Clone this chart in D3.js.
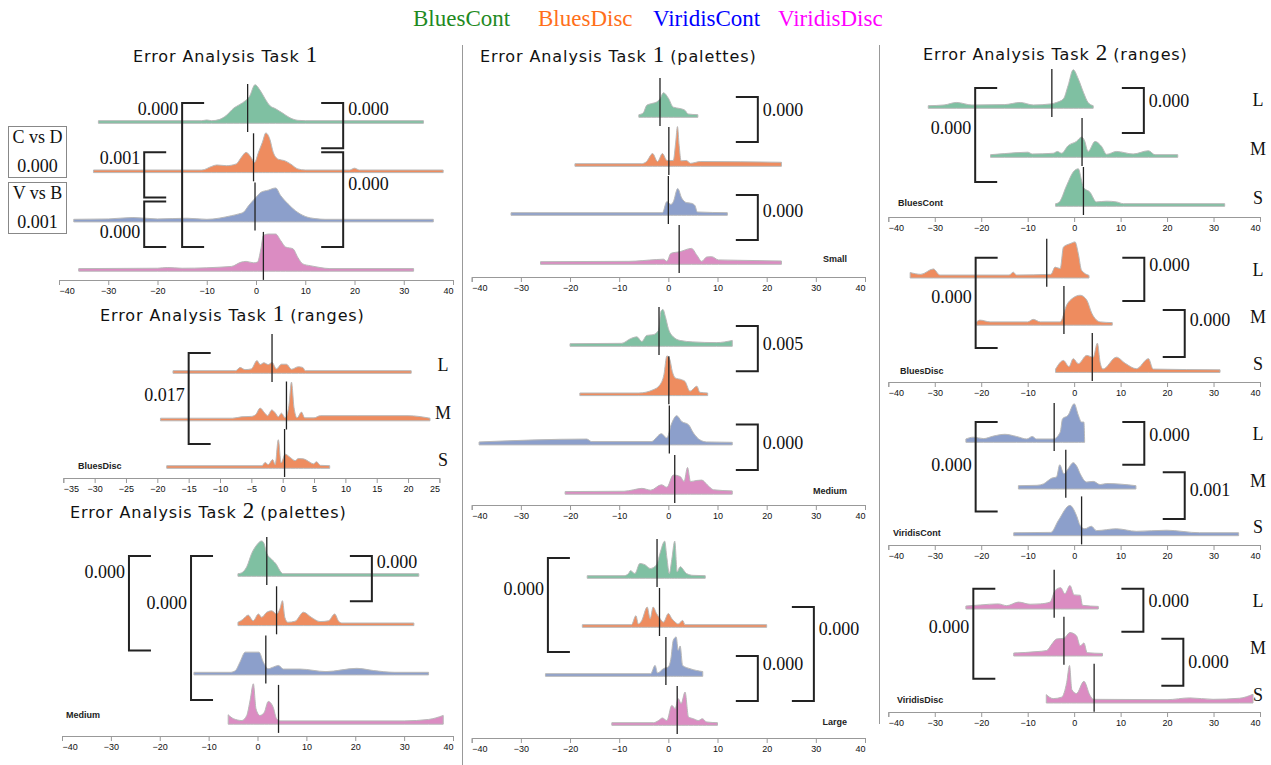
<!DOCTYPE html>
<html>
<head>
<meta charset="utf-8">
<script src="https://cdn.jsdelivr.net/npm/d3@7"></script>
<style>
body { margin: 0; background: #fff; }
.title { font-family: "DejaVu Sans", sans-serif; font-size: 16px; letter-spacing: 0.9px; fill: #111; white-space: pre; }
.title .num { font-family: "Liberation Serif", serif; font-size: 23px; letter-spacing: 0; }
.pval, .row, .box { font-family: "Liberation Serif", serif; font-size: 18px; fill: #111; }
.tag { font-family: "Liberation Sans", Arial, sans-serif; font-size: 9px; font-weight: bold; fill: #222; }
.legend { font-family: "Liberation Serif", serif; font-size: 23px; }
.axis text { font-family: "Liberation Sans", Arial, sans-serif; font-size: 9px; fill: #111; }
.axis path, .axis line { stroke: #999; }
</style>
</head>
<body>
<svg id="chart" width="1271" height="765"></svg>
<script>
document.addEventListener("DOMContentLoaded", function() {

// ---- categories & ticks ----
var palettes = ["BluesCont", "BluesDisc", "ViridisCont", "ViridisDisc"];
var ranges = ["L", "M", "S"];
var sizes = ["Small", "Medium", "Large"];
var ticksWide = [-40, -30, -20, -10, 0, 10, 20, 30, 40];
var ticksNarrow = [-35, -30, -25, -20, -15, -10, -5, 0, 5, 10, 15, 20, 25];

// ---- density profiles: [error, density] ----
// Task 1, all sizes
var t1Cont = [[-32,0],[-11,0],[-10,0.02],[-9,0],[-7.5,0.03],[-6,0.15],[-4.5,0.35],[-3.3,0.45],[-2.2,0.55],[-1.3,0.68],[-0.2,1],[0.8,0.85],[1.8,0.62],[2.8,0.42],[4,0.33],[5.3,0.22],[6.9,0.08],[8.5,0.01],[10,0],[34,0]];
var t1Disc = [[-33,0],[-11,0],[-9,0.1],[-8,0.14],[-6,0.12],[-4,0.17],[-3,0.35],[-2,0.49],[-1,0.35],[-0.3,0.21],[0.5,0.49],[1.3,0.77],[2,1.03],[2.8,0.86],[3.5,0.49],[4.5,0.3],[5.8,0.26],[7,0.17],[8.5,0.03],[10,0],[19,0],[20,0.05],[21,0],[38,0]];
var t1VCont = [[-37,0],[-30,0.01],[-25,0.05],[-20,0.01],[-14,0.03],[-10,0],[-5,0.1],[-3.5,0.15],[-2.5,0.2],[-1.5,0.38],[0,0.61],[1,0.75],[2.5,0.81],[4,0.87],[5,0.66],[6.5,0.43],[8,0.24],[10,0.08],[12,0.02],[14,0],[36,0]];
var t1VDisc = [[-36,0],[-20,0.01],[-18,0.03],[-15,0.01],[-5,0.06],[-3,0.18],[-2,0.2],[-0.5,0.16],[0.3,0.18],[1,0.55],[1.5,0.92],[2.5,0.96],[4,0.96],[5,0.78],[6,0.6],[7.5,0.55],[8.5,0.31],[9.5,0.13],[11,0.08],[13,0.03],[15,0],[32,0]];
var t1Med = [-1.7, -0.5, -0.2, 1.5];
var t1P = ["0.000", "0.001", "0.000", "0.000", "0.000"];
var t1Cmp = [["C vs D", "0.000"], ["V vs B", "0.001"]];

// Task 1 ranges, BluesDisc
var r1L = [[-17.5,0],[-7.5,0],[-6.8,0.09],[-6,0.03],[-5,0.05],[-4.1,0.28],[-3.6,0.17],[-3,0.22],[-2.3,0.17],[-1.7,0.23],[-1,0.05],[-0.2,0.18],[0.6,0.18],[1.4,0.04],[2.5,0.11],[3.2,0.09],[3.6,0],[20.5,0]];
var r1M = [[-19.5,0],[-8,0],[-6.5,0.04],[-5,0.05],[-4.3,0.1],[-3.6,0.28],[-2.9,0.15],[-2.4,0.07],[-1.75,0.23],[-1.2,0.15],[-0.7,0.04],[-0.2,0.14],[0.4,0.01],[1.0,0.35],[1.4,1.0],[1.8,0.3],[2.3,0.01],[3.0,0.17],[3.5,0.01],[5,0.01],[6,0.07],[12,0.07],[20,0.07],[23.5,0]];
var r1S = [[-18.5,0],[-3.3,0],[-2.8,0.09],[-2.3,0.03],[-1.6,0.17],[-1.2,0.03],[-0.7,0.72],[-0.25,0.08],[0.4,0.32],[1.2,0.23],[2,0.14],[2.5,0.2],[3.3,0.19],[4.4,0.09],[4.9,0.05],[5.4,0.11],[6,0.01],[7.5,0]];
var r1Med = [-1.7, 0.6, 0.3];
var r1P = ["0.017"];

// Task 2 palettes, Medium
var p2Cont = [[-4,0],[-3.3,0.02],[-2.2,0.19],[-1.2,0.56],[-0.2,0.79],[0.85,0.91],[1.3,0.85],[1.9,0.56],[2.9,0.4],[3.9,0.25],[4.6,0.08],[5.2,0],[33,0]];
var p2Disc = [[-4,0.02],[-3,0.1],[-1.9,0.22],[-0.9,0.06],[0.2,0.25],[0.85,0.16],[1.9,0.3],[2.9,0.34],[3.9,0.25],[4.6,0.4],[5.1,0.62],[5.6,0.15],[6.2,0.02],[7.7,0.05],[9.4,0.3],[11,0.16],[12.8,0.04],[14.5,0.06],[15.8,0.25],[16.6,0.05],[17.3,0],[32,0]];
var p2VCont = [[-13,0],[-5.5,0],[-4.5,0.05],[-3.6,0.28],[-2.5,0.56],[0.3,0.56],[1.2,0.28],[2.2,0.1],[3.3,0.15],[4.3,0.19],[5.3,0.09],[8.7,0.09],[14,0.02],[20.3,0.11],[23.7,0.05],[28,0],[35,0]];
var p2VDisc = [[-6,0.19],[-4.9,0.08],[-3.2,0.03],[-2.2,0.17],[-1.5,0.6],[-0.85,1.05],[-0.3,0.35],[0.5,0.17],[1.4,0.26],[2.2,0.56],[3.2,0.4],[3.9,0.08],[4.6,0.02],[30,0.02],[35,0.06],[38,0.17]];
var p2Med = [1.9, 3.9, 1.7, 4.3];
var p2P = ["0.000", "0.000", "0.000"];

// Task 1 palettes, Small
var sCont = [[-6,0],[-5.1,0.05],[-4.4,0.26],[-3.4,0.31],[-2.4,0.35],[-1.7,0.44],[-1,0.61],[0,0.46],[1,0.21],[2.4,0.17],[3.4,0.12],[4,0.02],[6,0]];
var sDisc = [[-19,0],[-5.5,0],[-4.5,0.05],[-3.2,0.28],[-2.2,0.06],[-1.2,0.28],[-0.3,0.09],[1,0.09],[1.5,0.6],[1.85,1.03],[2.2,0.5],[2.6,0.08],[3.7,0.09],[4.5,0.01],[6.5,0.06],[23,0.04]];
var sVCont = [[-32,0],[-1.2,0],[-0.3,0.31],[0.5,0.23],[1,0.3],[1.9,0.67],[2.7,0.41],[3.7,0.28],[4.7,0.26],[5.4,0.2],[5.9,0.02],[12,0]];
var sVDisc = [[-26,0],[-8,0.01],[-2.4,0.06],[-1,0.07],[-0.3,0.01],[0.5,0.23],[2.4,0.28],[4.7,0.37],[5.8,0.18],[6.8,0.01],[7.8,0.13],[8.8,0.14],[10.2,0.05],[14,0.04],[23,0.02]];
var sMed = [-1.7, 0.1, 0, 2.2];
var sP = ["0.000", "0.000"];

// Task 1 palettes, Medium
var mCont = [[-20,0],[-9.5,0.01],[-7.7,0.14],[-6.4,0.19],[-5.4,0.06],[-4.4,0.23],[-3.1,0.25],[-2,0.37],[-1.5,0.9],[-1.1,0.95],[-0.6,0.75],[0,0.42],[1,0.19],[2.4,0.09],[5,0.05],[9.8,0.03],[13,0.09]];
var mDisc = [[-18,0],[-6,0],[-3.1,0.09],[-1.7,0.23],[-0.9,0.51],[-0.3,1.03],[0.3,0.93],[0.8,0.6],[1.4,0.42],[2.7,0.37],[3.4,0.32],[4.4,0.05],[5.8,0.19],[6.4,0.02],[8,0]];
var mVCont = [[-38.5,0.01],[-16.6,0.09],[-15.6,0.02],[-3.5,0.02],[-1.4,0.24],[-0.3,0.12],[0.6,0.5],[1.7,0.74],[2.7,0.58],[4.1,0.49],[5.1,0.26],[6.4,0.07],[7.8,0.01],[13,0]];
var mVDisc = [[-21,0],[-9,0.01],[-7.1,0.05],[-5.4,0.09],[-3.6,0.04],[-1.4,0.19],[-0.3,0.12],[1,0.46],[2.4,0.42],[3.2,0.28],[3.9,0.67],[4.5,0.28],[5.8,0.31],[6.8,0.32],[7.9,0.19],[9.2,0.05],[13,0.02]];
var mMed = [-1.9, 0.1, 0.2, 1.3];
var mP = ["0.005", "0.000"];

// Task 1 palettes, Large
var lCont = [[-16.5,0],[-9,0],[-8.1,0.06],[-7.7,0.14],[-6.8,0.06],[-5.8,0.34],[-4.7,0.3],[-3.7,0.2],[-2.4,0.3],[-1.7,0.62],[-0.75,0.96],[-0.3,0.5],[0.2,0.06],[0.7,0.45],[1.3,0.96],[1.8,0.11],[2.4,0.25],[3.7,0.06],[5,0.01],[7.5,0]];
var lDisc = [[-17.5,0],[-7.5,0],[-6.6,0.25],[-6.1,0.02],[-5.4,0.12],[-4.3,0.49],[-3.7,0.17],[-3.1,0.49],[-2.4,0.31],[-1.7,0.17],[-1,0.07],[0,0.31],[0.7,0.17],[1.4,0.07],[2,0.02],[2.9,0.12],[3.4,0],[20,0]];
var lVCont = [[-25,0],[-3.6,0],[-2.7,0.23],[-2.2,0.02],[-1,0.14],[0,0.19],[0.5,0.4],[1,0.93],[1.6,1.02],[2,0.65],[2.4,0.77],[2.9,0.23],[4.4,0.14],[7,0.06]];
var lVDisc = [[-11.5,0],[-3,0],[-2,0.06],[-1.2,0.13],[-0.3,0.06],[0.7,0.48],[1.4,0.39],[2,0.67],[2.6,0.53],[3.4,0.85],[4.1,0.16],[5.1,0.11],[6.1,0.06],[6.9,0.11],[7.8,0.02],[10,0]];
var lMed = [-2.3, -1.8, -0.5, 1.8];
var lP = ["0.000", "0.000", "0.000"];

// Task 2 ranges
var r2cL = [[-31.4,0],[-28,0.02],[-25.3,0.09],[-22,0.02],[-15,0.03],[-11.6,0.09],[-8.8,0.02],[-5,0.05],[-3.8,0.09],[-2.3,0.19],[-1.3,0.56],[-0.2,1],[0.9,0.74],[2,0.37],[3,0.09],[4.1,0]];
var r2cM = [[-18,0],[-15,0.03],[-10,0.07],[-9,0.02],[-4.5,0.04],[-3.6,0.09],[-2.7,0.04],[-1.3,0.25],[0.5,0.37],[1.6,0.49],[2.2,0.4],[3,0.09],[4.5,0.37],[5.9,0.23],[7,0.01],[9.1,0.09],[12.7,0.02],[16,0.11],[17.4,0],[22.3,0]];
var r2cS = [[-4,0],[-3.3,0.03],[-1.6,0.51],[-0.2,0.88],[0.9,0.97],[1.5,0.7],[2,0.45],[3.4,0.32],[4.8,0.05],[7,0.07],[9.1,0.05],[10.6,0],[32.4,0]];
var r2cMed = [-4.8, 1.7, 2];
var r2cP = ["0.000", "0.000"];

var r2dL = [[-35.3,0.08],[-33,0.03],[-30.3,0.18],[-28.9,0.01],[-14,0.01],[-13.1,0.09],[-12.4,0.01],[-5,0.03],[-4.1,0.23],[-3,0.19],[-2.3,0.79],[-0.9,0.88],[0.2,0.93],[0.9,0.6],[1.6,0.14],[3.2,0]];
var r2dM = [[-21,0.02],[-20.3,0.07],[-18.1,0.02],[-10,0.02],[-8.8,0.09],[-7.3,0.02],[-3,0.02],[-1.6,0.49],[-0.2,0.69],[1.3,0.76],[2.7,0.63],[3.8,0.26],[5.6,0.02],[8.2,0]];
var r2dS = [[-4,0.02],[-2.3,0.26],[-1.1,0.09],[-0.2,0.31],[0.9,0.17],[2.7,0.4],[4.1,0.35],[5,0.74],[5.6,0.2],[6.2,0.02],[9.1,0.35],[11,0.18],[13.4,0.03],[16,0.31],[17,0.02],[31.4,0]];
var r2dMed = [-5.9, -2.2, 3.9];
var r2dP = ["0.000", "0.000", "0.000"];

var r2vcL = [[-23.3,0.02],[-21.7,0.07],[-19.5,0.03],[-17.4,0.1],[-14.9,0.15],[-12.4,0.09],[-10.2,0.02],[-9,0.09],[-8.1,0.02],[-4.5,0.02],[-3,0.21],[-2.5,0.58],[-1.3,0.68],[0,1],[0.9,0.68],[1.6,0.49],[2.1,0.49],[2.25,0]];
var r2vcM = [[-12,0.02],[-8,0.03],[-6.6,0.07],[-4.8,0.23],[-3.8,0.26],[-3.1,0.6],[-2.2,0.35],[-1.3,0.49],[-0.2,0.66],[0.6,0.55],[1.3,0.35],[2.7,0.12],[4.1,0.14],[5.6,0.05],[7,0.08],[13.3,0.02]];
var r2vcS = [[-13,0.01],[-5,0.02],[-3.4,0.35],[-0.9,0.77],[0.5,0.49],[1.3,0.21],[2.3,0.12],[3.7,0.19],[4.8,0.07],[9.1,0.12],[13.4,0.05],[19.9,0.08],[27,0.01],[35.4,0.01]];
var r2vcMed = [-4.3, -1.8, 1.6];
var r2vcP = ["0.000", "0.000", "0.001"];

var r2vdL = [[-23.3,0.01],[-20.2,0.04],[-16.3,0.07],[-14.5,0.02],[-12,0.12],[-9.5,0.06],[-7.3,0.07],[-5.2,0.12],[-4.1,0.44],[-2.9,0.52],[-2,0.35],[-0.9,0.58],[0,0.32],[1.3,0.31],[1.8,0.03],[5.2,0]];
var r2vdM = [[-13,0.01],[-8,0.05],[-5.9,0.08],[-4.8,0.26],[-3.8,0.4],[-2.2,0.42],[-0.9,0.58],[0.5,0.49],[1.3,0.21],[2.1,0.29],[2.8,0.02],[6.1,0]];
var r2vdS = [[-6,0.16],[-4.5,0.05],[-2.7,0.09],[-1.6,0.5],[-1,0.97],[-0.5,0.3],[0.5,0.19],[2.1,0.53],[3.4,0.14],[4.1,0.03],[20,0.02],[24.9,0.07],[29.9,0.03],[35.6,0.06],[38.5,0.17]];
var r2vdMed = [-4.3, -2.2, 4.3];
var r2vdP = ["0.000", "0.000", "0.000"];

// ---- styling ----
var fillOf = { BluesCont: "#7fc0a2", BluesDisc: "#ee8c5f", ViridisCont: "#8c9fcb", ViridisDisc: "#db8cc2" };
var legendColor = { BluesCont: "#1f8a1f", BluesDisc: "#ff6f1a", ViridisCont: "#0000ff", ViridisDisc: "#ff00ff" };
var allPal = palettes;

// ---- panel layout ----
var panels = [
  { num: "1", sub: "", tx: 133, ty: 62, x0: 59, x1: 453, domain: [-40, 40], ticks: ticksWide, axisY: 280, base0: 122, step: 49.3,
    ridges: [t1Cont, t1Disc, t1VCont, t1VDisc], pal: allPal, med: t1Med, p: t1P,
    br: [{a:0,b:3,at:-15,side:"L",t:0.04},{a:1,b:2,at:-22.7,side:"L",t:0.13},{a:2,b:3,at:-22.7,side:"L",t:0.67},
         {a:0,b:1,at:17.7,side:"R",t:0.13},{a:1,b:3,at:17.7,side:"R",t:0.34}] },
  { num: "1", sub: "(ranges)", tx: 100, ty: 321, x0: 63.3, x1: 439.4, domain: [-35, 25], ticks: ticksNarrow, axisY: 478, base0: 372, step: 47.5,
    ridges: [r1L, r1M, r1S], pal: ["BluesDisc","BluesDisc","BluesDisc"], med: r1Med, p: r1P, rows: ranges, rowX: 443,
    tag: palettes[1], tagX: 78, tagY: 469, tagAnchor: "start",
    br: [{a:0,b:2,at:-15,side:"L",t:0.46}] },
  { num: "2", sub: "(palettes)", tx: 70, ty: 518, x0: 62, x1: 453, domain: [-40, 40], ticks: ticksWide, axisY: 736, base0: 575, step: 49.3,
    ridges: [p2Cont, p2Disc, p2VCont, p2VDisc], pal: allPal, med: p2Med, p: p2P,
    tag: sizes[1], tagX: 66, tagY: 718, tagAnchor: "start",
    br: [{a:0,b:2,at:-26.3,side:"L",t:0.17},{a:0,b:3,at:-13.6,side:"L",t:0.33},{a:0,b:1,at:23.4,side:"R",t:0.13}] },
  { num: "1", sub: "(palettes)", tx: 480, ty: 62, x0: 471.7, x1: 865, domain: [-40, 40], ticks: ticksWide, axisY: 277, base0: 116, step: 49,
    ridges: [sCont, sDisc, sVCont, sVDisc], pal: allPal, med: sMed, p: sP,
    tag: sizes[0], tagX: 847, tagY: 262, tagAnchor: "end",
    br: [{a:0,b:1,at:18.2,side:"R",t:0.29},{a:2,b:3,at:18.2,side:"R",t:0.36}] },
  { x0: 471.7, x1: 865, domain: [-40, 40], ticks: ticksWide, axisY: 505, base0: 345, step: 49.3,
    ridges: [mCont, mDisc, mVCont, mVDisc], pal: allPal, med: mMed, p: mP,
    tag: sizes[1], tagX: 847, tagY: 494, tagAnchor: "end",
    br: [{a:0,b:1,at:18.2,side:"R",t:0.4},{a:2,b:3,at:18.2,side:"R",t:0.41}] },
  { x0: 471.7, x1: 865, domain: [-40, 40], ticks: ticksWide, axisY: 738, base0: 577, step: 49,
    ridges: [lCont, lDisc, lVCont, lVDisc], pal: allPal, med: lMed, p: lP,
    tag: sizes[2], tagX: 847, tagY: 725, tagAnchor: "end",
    br: [{a:0,b:2,at:-24.5,side:"L",t:0.33},{a:2,b:3,at:18.2,side:"R",t:0.18},{a:1,b:3,at:29.6,side:"R",t:0.23}] },
  { num: "2", sub: "(ranges)", tx: 923, ty: 60, x0: 888.3, x1: 1260, domain: [-40, 40], ticks: ticksWide, axisY: 217, base0: 107, step: 49,
    ridges: [r2cL, r2cM, r2cS], pal: ["BluesCont","BluesCont","BluesCont"], med: r2cMed, p: r2cP, rows: ranges, rowX: 1258,
    tag: palettes[0], tagX: 898, tagY: 206, tagAnchor: "start",
    br: [{a:0,b:2,at:-21.3,side:"L",t:0.43},{a:0,b:1,at:15,side:"R",t:0.28}] },
  { x0: 888.3, x1: 1260, domain: [-40, 40], ticks: ticksWide, axisY: 382, base0: 276.7, step: 47.2,
    ridges: [r2dL, r2dM, r2dS], pal: ["BluesDisc","BluesDisc","BluesDisc"], med: r2dMed, p: r2dP, rows: ranges, rowX: 1258,
    tag: palettes[1], tagX: 900, tagY: 374, tagAnchor: "start",
    br: [{a:0,b:2,at:-21.2,side:"L",t:0.44},{a:0,b:1,at:15.1,side:"R",t:0.17},{a:1,b:2,at:23.8,side:"R",t:0.21,dy:-14}] },
  { x0: 888.3, x1: 1260, domain: [-40, 40], ticks: ticksWide, axisY: 545, base0: 441, step: 46.7,
    ridges: [r2vcL, r2vcM, r2vcS], pal: ["ViridisCont","ViridisCont","ViridisCont"], med: r2vcMed, p: r2vcP, rows: ranges, rowX: 1258,
    tag: palettes[2], tagX: 893, tagY: 536, tagAnchor: "start",
    br: [{a:0,b:2,at:-21.2,side:"L",t:0.48},{a:0,b:1,at:15.1,side:"R",t:0.3},{a:1,b:2,at:23.8,side:"R",t:0.38,dy:-15.5}] },
  { x0: 888.3, x1: 1260, domain: [-40, 40], ticks: ticksWide, axisY: 712, base0: 607.7, step: 47,
    ridges: [r2vdL, r2vdM, r2vdS], pal: ["ViridisDisc","ViridisDisc","ViridisDisc"], med: r2vdMed, p: r2vdP, rows: ranges, rowX: 1258,
    tag: palettes[3], tagX: 897, tagY: 703, tagAnchor: "start",
    br: [{a:0,b:2,at:-21.7,side:"L",t:0.42},{a:0,b:1,at:14.9,side:"R",t:0.29},{a:1,b:2,at:23.5,side:"R",t:0.49,dy:-16}] }
];

var svg = d3.select("#chart");
var hScale = d3.scaleLinear().domain([0, 1]).range([0, 36]);
var arm = 22;

// legend
var legendX = [413, 538, 653, 778];
svg.append("g").selectAll("text").data(palettes).enter().append("text")
  .attr("class", "legend")
  .attr("x", function(d, i) { return legendX[i]; })
  .attr("y", 26)
  .attr("fill", function(d) { return legendColor[d]; })
  .text(function(d) { return d; });

// dividers
svg.append("line").attr("x1", 462.5).attr("x2", 462.5).attr("y1", 45).attr("y2", 765).attr("stroke", "#999");
svg.append("line").attr("x1", 879.5).attr("x2", 879.5).attr("y1", 45).attr("y2", 724).attr("stroke", "#999");

panels.forEach(function(p) {
  var g = svg.append("g");
  var x = d3.scaleLinear().domain(p.domain).range([p.x0, p.x1]);
  var base = function(i) { return p.base0 + i * p.step; };

  if (p.num) {
    var t = g.append("text").attr("class", "title").attr("x", p.tx).attr("y", p.ty);
    t.append("tspan").text("Error Analysis Task ");
    t.append("tspan").attr("class", "num").text(p.num);
    if (p.sub) t.append("tspan").text(" " + p.sub);
  }

  // ridges
  p.ridges.forEach(function(r, i) {
    var b = base(i);
    var area = d3.area().curve(d3.curveMonotoneX)
      .x(function(d) { return x(d[0]); })
      .y0(b + 1.3)
      .y1(function(d) { return b - 1.3 - hScale(d[1]); });
    g.append("path").datum(r).attr("d", area)
      .attr("fill", fillOf[p.pal[i]])
      .attr("stroke", "#b8b8b8").attr("stroke-width", 1);
  });

  // medians
  g.selectAll(".med").data(p.med).enter().append("line")
    .attr("x1", function(d) { return x(d); }).attr("x2", function(d) { return x(d); })
    .attr("y1", function(d, i) { return base(i) - 38; })
    .attr("y2", function(d, i) { return base(i) + 10; })
    .attr("stroke", "#222").attr("stroke-width", 1.3);

  // brackets
  p.br.forEach(function(br, k) {
    var y0 = base(br.a) + (br.dy !== undefined ? br.dy : -19);
    var y1 = base(br.b) + (br.dy !== undefined ? br.dy : -23);
    var xv = x(br.at);
    var xa = br.side === "L" ? xv + arm : xv - arm;
    g.append("path")
      .attr("d", "M" + xa + "," + y0 + "H" + xv + "V" + y1 + "H" + xa)
      .attr("fill", "none").attr("stroke", "#222").attr("stroke-width", 2);
    g.append("text").attr("class", "pval")
      .attr("x", br.side === "L" ? xv - 4 : xv + 5)
      .attr("y", y0 + br.t * (y1 - y0) + 6)
      .attr("text-anchor", br.side === "L" ? "end" : "start")
      .text(p.p[k]);
  });

  if (p.rows) {
    g.selectAll(".row").data(p.rows).enter().append("text")
      .attr("class", "row").attr("text-anchor", "middle")
      .attr("x", p.rowX).attr("y", function(d, i) { return base(i) - 1; })
      .text(function(d) { return d; });
  }
  if (p.tag) {
    g.append("text").attr("class", "tag").attr("x", p.tagX).attr("y", p.tagY)
      .attr("text-anchor", p.tagAnchor).text(p.tag);
  }

  // axis
  var ax = g.append("g").attr("class", "axis")
    .attr("transform", "translate(0," + p.axisY + ")")
    .call(d3.axisBottom(x).tickValues(p.ticks).tickSize(5).tickPadding(3));
  var labels = ax.selectAll(".tick text");
  labels.filter(function(d, i) { return i === 0; }).attr("text-anchor", "start");
  labels.filter(function(d, i, n) { return i === n.length - 1; }).attr("text-anchor", "end");
});

// comparison boxes (Task 1)
var boxY = [126, 182];
t1Cmp.forEach(function(c, i) {
  svg.append("rect").attr("x", 8.5).attr("y", boxY[i] + 0.5).attr("width", 58).attr("height", 51)
    .attr("fill", "none").attr("stroke", "#888");
  svg.append("text").attr("class", "box").attr("text-anchor", "middle")
    .attr("x", 37.5).attr("y", boxY[i] + 17).text(c[0]);
  svg.append("text").attr("class", "box").attr("text-anchor", "middle")
    .attr("x", 37.5).attr("y", boxY[i] + 46).text(c[1]);
});

});
</script>
</body>
</html>
